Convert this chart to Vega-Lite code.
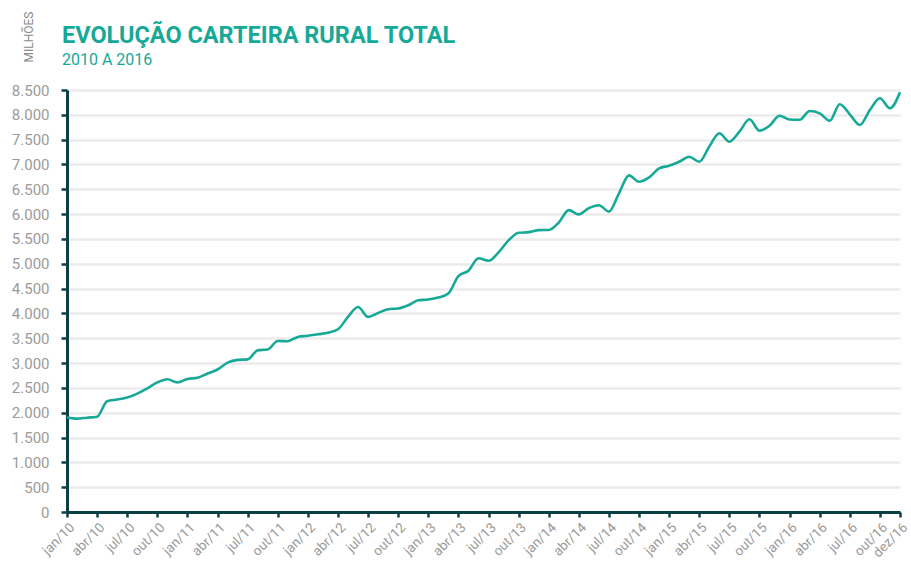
{
  "$schema": "https://vega.github.io/schema/vega-lite/v6.json",
  "autosize": {"type": "none"},
  "width": 833,
  "height": 422,
  "padding": {"left": 67, "top": 90, "right": 11, "bottom": 54},
  "background": "white",
  "title": {
    "text": "EVOLUÇÃO CARTEIRA RURAL TOTAL",
    "subtitle": "2010 A 2016",
    "anchor": "start",
    "frame": "group",
    "dx": -5,
    "dy": 61,
    "font": "Roboto",
    "fontSize": 23.5,
    "fontWeight": "bold",
    "color": "#17a997",
    "subtitleFont": "Roboto",
    "subtitleFontSize": 16,
    "subtitleColor": "#17a997",
    "subtitlePadding": 5
  },
  "data": {
    "values": [
      {"mes": "jan/10", "valor": 1910}, {"mes": "fev/10", "valor": 1880}, {"mes": "mar/10", "valor": 1900},
      {"mes": "abr/10", "valor": 1920}, {"mes": "mai/10", "valor": 2230}, {"mes": "jun/10", "valor": 2265},
      {"mes": "jul/10", "valor": 2305}, {"mes": "ago/10", "valor": 2385}, {"mes": "set/10", "valor": 2490},
      {"mes": "out/10", "valor": 2610}, {"mes": "nov/10", "valor": 2675}, {"mes": "dez/10", "valor": 2610},
      {"mes": "jan/11", "valor": 2680}, {"mes": "fev/11", "valor": 2705}, {"mes": "mar/11", "valor": 2790},
      {"mes": "abr/11", "valor": 2870}, {"mes": "mai/11", "valor": 3010}, {"mes": "jun/11", "valor": 3065},
      {"mes": "jul/11", "valor": 3075}, {"mes": "ago/11", "valor": 3255}, {"mes": "set/11", "valor": 3275},
      {"mes": "out/11", "valor": 3445}, {"mes": "nov/11", "valor": 3440}, {"mes": "dez/11", "valor": 3527},
      {"mes": "jan/12", "valor": 3550}, {"mes": "fev/12", "valor": 3580}, {"mes": "mar/12", "valor": 3610},
      {"mes": "abr/12", "valor": 3680}, {"mes": "mai/12", "valor": 3930}, {"mes": "jun/12", "valor": 4130},
      {"mes": "jul/12", "valor": 3930}, {"mes": "ago/12", "valor": 4010}, {"mes": "set/12", "valor": 4085},
      {"mes": "out/12", "valor": 4100}, {"mes": "nov/12", "valor": 4165}, {"mes": "dez/12", "valor": 4265},
      {"mes": "jan/13", "valor": 4280}, {"mes": "fev/13", "valor": 4320}, {"mes": "mar/13", "valor": 4400},
      {"mes": "abr/13", "valor": 4750}, {"mes": "mai/13", "valor": 4860}, {"mes": "jun/13", "valor": 5110},
      {"mes": "jul/13", "valor": 5060}, {"mes": "ago/13", "valor": 5230}, {"mes": "set/13", "valor": 5470},
      {"mes": "out/13", "valor": 5625}, {"mes": "nov/13", "valor": 5637}, {"mes": "dez/13", "valor": 5678},
      {"mes": "jan/14", "valor": 5680}, {"mes": "fev/14", "valor": 5830}, {"mes": "mar/14", "valor": 6080},
      {"mes": "abr/14", "valor": 5994}, {"mes": "mai/14", "valor": 6120}, {"mes": "jun/14", "valor": 6180},
      {"mes": "jul/14", "valor": 6050}, {"mes": "ago/14", "valor": 6420}, {"mes": "set/14", "valor": 6780},
      {"mes": "out/14", "valor": 6652}, {"mes": "nov/14", "valor": 6740}, {"mes": "dez/14", "valor": 6920},
      {"mes": "jan/15", "valor": 6975}, {"mes": "fev/15", "valor": 7055}, {"mes": "mar/15", "valor": 7156},
      {"mes": "abr/15", "valor": 7055}, {"mes": "mai/15", "valor": 7360}, {"mes": "jun/15", "valor": 7628},
      {"mes": "jul/15", "valor": 7459}, {"mes": "ago/15", "valor": 7660}, {"mes": "set/15", "valor": 7910},
      {"mes": "out/15", "valor": 7680}, {"mes": "nov/15", "valor": 7780}, {"mes": "dez/15", "valor": 7982},
      {"mes": "jan/16", "valor": 7905}, {"mes": "fev/16", "valor": 7900}, {"mes": "mar/16", "valor": 8077},
      {"mes": "abr/16", "valor": 8030}, {"mes": "mai/16", "valor": 7881}, {"mes": "jun/16", "valor": 8212},
      {"mes": "jul/16", "valor": 8010}, {"mes": "ago/16", "valor": 7795}, {"mes": "set/16", "valor": 8097},
      {"mes": "out/16", "valor": 8333}, {"mes": "nov/16", "valor": 8131}, {"mes": "dez/16", "valor": 8454}
    ]
  },
  "mark": {"type": "line", "interpolate": "monotone", "color": "#17a997", "strokeWidth": 2.6},
  "encoding": {
    "x": {
      "field": "mes",
      "type": "ordinal",
      "sort": null,
      "scale": {"type": "point", "padding": 0},
      "axis": {
        "title": null,
        "values": ["jan/10","abr/10","jul/10","out/10","jan/11","abr/11","jul/11","out/11","jan/12","abr/12","jul/12","out/12","jan/13","abr/13","jul/13","out/13","jan/14","abr/14","jul/14","out/14","jan/15","abr/15","jul/15","out/15","jan/16","abr/16","jul/16","out/16","dez/16"],
        "labelAngle": -45,
        "labelAlign": "right",
        "labelBaseline": "top",
        "labelPadding": 3,
        "labelFont": "Roboto",
        "labelFontSize": 13.5,
        "labelColor": "#9a9a9a",
        "domainColor": "#0d3f46",
        "domainWidth": 3,
        "tickColor": "#0d3f46",
        "tickWidth": 2.5,
        "tickSize": 5,
        "grid": false,
        "labelOverlap": false
      }
    },
    "y": {
      "field": "valor",
      "type": "quantitative",
      "scale": {"domain": [0, 8500], "nice": false},
      "axis": {
        "values": [0,500,1000,1500,2000,2500,3000,3500,4000,4500,5000,5500,6000,6500,7000,7500,8000,8500],
        "labelExpr": "replace(format(datum.value, ','), ',', '.')",
        "labelFont": "Roboto",
        "labelFontSize": 15,
        "labelColor": "#9a9a9a",
        "labelPadding": 12,
        "domainColor": "#0d3f46",
        "domainWidth": 3,
        "tickColor": "#0d3f46",
        "tickWidth": 2.5,
        "tickSize": 6,
        "grid": true,
        "gridColor": "#ebebeb",
        "gridWidth": 2.5,
        "title": "MILHÕES",
        "titleFont": "Roboto",
        "titleFontSize": 12,
        "titleFontWeight": "normal",
        "titleColor": "#8a8a8a",
        "titleAngle": 270,
        "titleAlign": "left",
        "titleBaseline": "middle",
        "titleX": -39,
        "titleY": -28
      }
    }
  },
  "config": {"view": {"stroke": null}}
}
